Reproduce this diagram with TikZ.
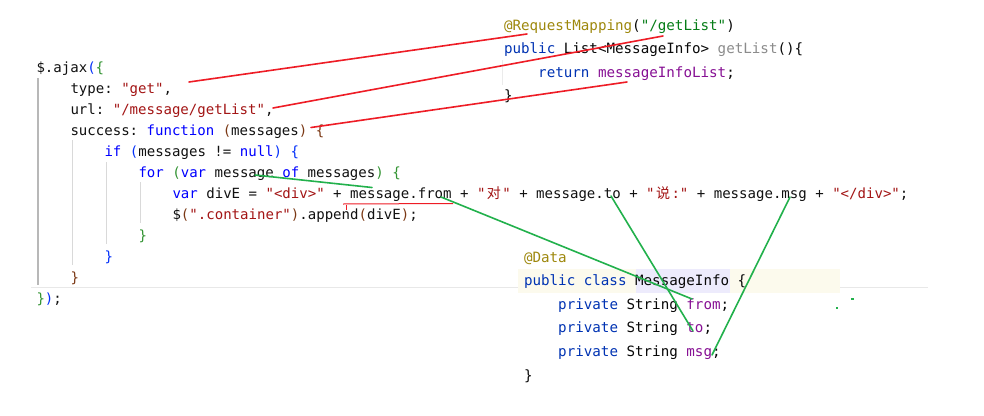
\documentclass[tikz,border=0pt]{standalone}
\usepackage{fontspec}
\newfontfamily\cmono{DejaVu Sans Mono}
\newfontfamily\cjk{Noto Sans CJK SC}
\definecolor{jsblue}{HTML}{0000FF}
\definecolor{jsstr}{HTML}{A31515}
\definecolor{bra}{HTML}{0431FA}
\definecolor{brb}{HTML}{319331}
\definecolor{brc}{HTML}{7B3814}
\definecolor{jsfg}{HTML}{111111}
\definecolor{jvann}{HTML}{9E880D}
\definecolor{jvstr}{HTML}{067D17}
\definecolor{jvkw}{HTML}{0033B3}
\definecolor{jvfield}{HTML}{871094}
\definecolor{jvgray}{HTML}{8C8C8C}
\definecolor{jvfg}{HTML}{080808}
\definecolor{redmk}{HTML}{EE1C25}
\definecolor{greenmk}{HTML}{22B14C}
\definecolor{lineHL}{HTML}{FCFAED}
\definecolor{wordHL}{HTML}{EDEBFC}
\newcommand\jkw[1]{\textcolor{jsblue}{#1}}
\newcommand\jstr[1]{\textcolor{jsstr}{#1}}
\newcommand\bra[1]{\textcolor{bra}{#1}}
\newcommand\brb[1]{\textcolor{brb}{#1}}
\newcommand\brc[1]{\textcolor{brc}{#1}}
\newcommand\cjkc[1]{\makebox[16.9pt][c]{\cjk #1}}
\newcommand\jann[1]{\textcolor{jvann}{#1}}
\newcommand\jvs[1]{\textcolor{jvstr}{#1}}
\newcommand\jvk[1]{\textcolor{jvkw}{#1}}
\newcommand\jfield[1]{\textcolor{jvfield}{#1}}
\newcommand\jgray[1]{\textcolor{jvgray}{#1}}
\newcommand\jsfont{\cmono\fontsize{14.05}{16}\selectfont\frenchspacing}
\newcommand\jvfont{\cmono\fontsize{14.2}{16}\selectfont\frenchspacing}
\tikzset{
  jsl/.style={anchor=base west, inner sep=0pt, outer sep=0pt, font=\jsfont, text=jsfg},
  jvl/.style={anchor=base west, inner sep=0pt, outer sep=0pt, font=\jvfont, text=jvfg},
  guidemain/.style={draw=black!28, line width=1.8pt},
  guide/.style={draw=black!15, line width=1pt},
  redmark/.style={draw=redmk, line width=1.6pt, line cap=round},
  thinred/.style={draw=redmk, line width=1pt},
  greenmark/.style={draw=greenmk, line width=1.6pt, line cap=round},
}
\begin{document}
\begin{tikzpicture}[x=1pt,y=-1pt]
\fill[white] (0,0) rectangle (984,415);
\useasboundingbox (0,0) rectangle (984,415);
% separator and highlights
\draw[draw=black!9, line width=1.5pt] (31,287.5) -- (928,287.5);
\fill[lineHL] (518,269) rectangle (840,292.5);
\fill[wordHL] (635.5,269) rectangle (729.5,292.5);
% indent guides
\draw[guidemain] (38,78) -- (38,285);
\draw[guide] (72,140) -- (72,265);
\draw[guide] (106,162) -- (106,244);
\draw[guide] (140,182) -- (140,223);
\draw[draw=black!8, line width=1pt] (502,60) -- (502,85);
% JS code
\node[jsl] (j1) at (36.5,72) {\$.ajax\bra{(}\brb{\{}};
\node[jsl] (j2) at (70.5,93) {type: \jstr{"get"},};
\node[jsl] (j3) at (70.5,114) {url: \jstr{"/message/getList"},};
\node[jsl] (j4) at (70.5,135) {success: \jkw{function} \brc{(}messages\brc{)} \brc{\{}};
\node[jsl] (j5) at (104.5,156) {\jkw{if} \bra{(}messages != \jkw{null}\bra{)} \bra{\{}};
\node[jsl] (j6) at (138.5,177) {\jkw{for} \brb{(}\jkw{var} message \jkw{of} messages\brb{)} \brb{\{}};
\node[jsl] (j7) at (172.5,198) {\jkw{var} divE = \jstr{"<div>"} + message.from + \jstr{"\cjkc{对}"} + message.to + \jstr{"\cjkc{说}:"} + message.msg + \jstr{"</div>"};};
\node[jsl] (j8) at (172.5,219) {\$\brc{(}\jstr{".container"}\brc{)}.append\brc{(}divE\brc{)};};
\node[jsl] (j9) at (138.5,240) {\brb{\}}};
\node[jsl] (j10) at (104.5,261) {\bra{\}}};
\node[jsl] (j11) at (70.5,282) {\brc{\}}};
\node[jsl] (j12) at (36.5,303) {\brb{\}}\bra{)};};
% Java controller
\node[jvl] (k1) at (504,30) {\jann{@RequestMapping}(\jvs{"/getList"})};
\node[jvl] (k2) at (504,53.6) {\jvk{public} List<MessageInfo> \jgray{getList}()\{};
\node[jvl] (k3) at (538.2,77.2) {\jvk{return} \jfield{messageInfoList};};
\node[jvl] (k4) at (504,100.8) {\}};
% Java class
\node[jvl] (m1) at (524,262) {\jann{@Data}};
\node[jvl] (m2) at (524,285.6) {\jvk{public class} MessageInfo \{};
\node[jvl] (m3) at (558.2,309.2) {\jvk{private} String \jfield{from};};
\node[jvl] (m4) at (558.2,332.8) {\jvk{private} String \jfield{to};};
\node[jvl] (m5) at (558.2,356.4) {\jvk{private} String \jfield{msg};};
\node[jvl] (m6) at (524,380) {\}};
% annotation coordinates
\coordinate (r1s) at (189,82);  \coordinate (r1e) at (527,34);
\coordinate (r2s) at (273,108); \coordinate (r2e) at (663,36);
\coordinate (r3s) at (311,127.5); \coordinate (r3e) at (627,82);
\coordinate (u1s) at (343,204); \coordinate (u1e) at (453,203.5);
\coordinate (t1s) at (346,205); \coordinate (t1e) at (346,210);
\coordinate (g1s) at (255,175); \coordinate (g1e) at (372,187.5);
\coordinate (g2s) at (441,197); \coordinate (g2e) at (692,299);
\coordinate (g3s) at (611,196); \coordinate (g3e) at (693,331);
\coordinate (g4s) at (790,197); \coordinate (g4e) at (712,355);
% red marks
\draw[redmark] (r1s) -- (r1e);
\draw[redmark] (r2s) -- (r2e);
\draw[redmark] (r3s) -- (r3e);
\draw[thinred] (u1s) -- (u1e);
\draw[thinred] (t1s) -- (t1e);
% green marks
\draw[greenmark] (g1s) -- (g1e);
\draw[greenmark] (g2s) -- (g2e);
\draw[greenmark] (g3s) -- (g3e);
\draw[greenmark] (g4s) -- (g4e);
\fill[greenmk] (836,307) rectangle (838,309);
\fill[greenmk] (851,298) rectangle (853.5,299.8);
\end{tikzpicture}
\end{document}
